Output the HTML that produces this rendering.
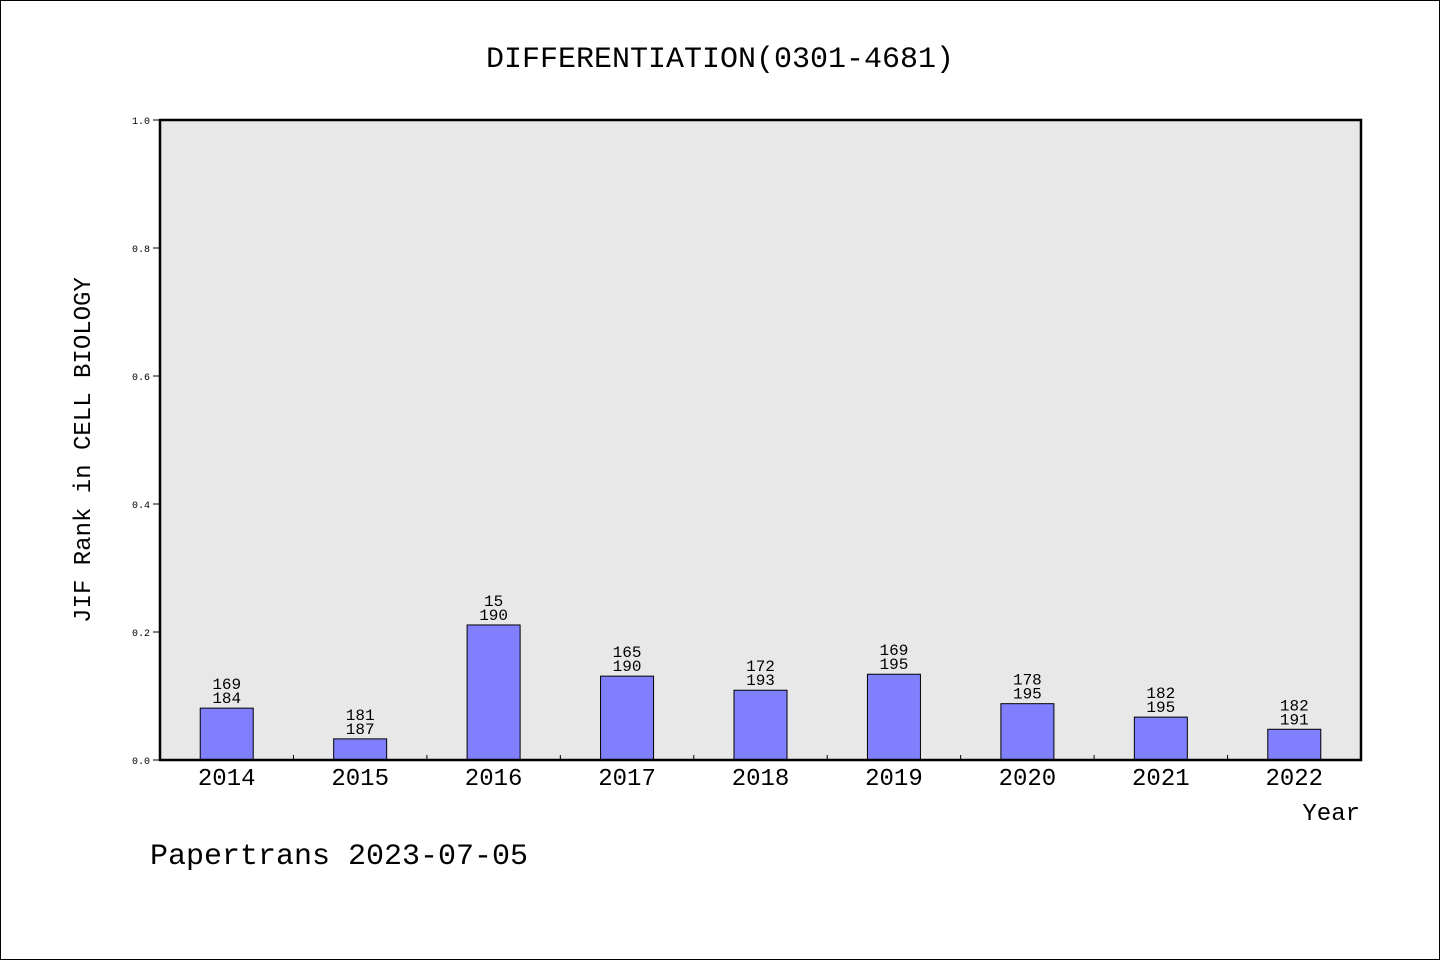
<!DOCTYPE html>
<html><head><meta charset="utf-8"><style>
html,body{margin:0;padding:0;background:#fff}
svg{display:block}
text{font-family:"WenQuanYi Zen Hei","Liberation Mono",monospace;fill:#000}
</style></head><body>
<svg width="1440" height="960" viewBox="0 0 1440 960">
<rect x="0.5" y="0.5" width="1439" height="959" fill="#fff" stroke="#000"/>
<text x="720" y="67" text-anchor="middle" font-size="30">DIFFERENTIATION(0301-4681)</text>
<rect x="160" y="120" width="1201" height="640" fill="#e8e8e8"/>
<g id="marks"></g>
<rect x="160" y="120" width="1201" height="640" fill="none" stroke="#000" stroke-width="2.5"/>
<text transform="translate(90,450) rotate(-90)" text-anchor="middle" font-size="24">JIF Rank in CELL BIOLOGY</text>
<text x="1360" y="820" text-anchor="end" font-size="24">Year</text>
<text x="150" y="864" font-size="30">Papertrans 2023-07-05</text>
</svg>
<script>
const categories=["2014","2015","2016","2017","2018","2019","2020","2021","2022"];
const values=[0.081,0.033,0.211,0.131,0.109,0.134,0.088,0.067,0.048];
const ranks=["169","181","15","165","172","169","178","182","182"];
const totals=["184","187","190","190","193","195","195","195","191"];
const yTicks=[0,0.2,0.4,0.6,0.8,1.0];
const yTickLabels=["0.0","0.2","0.4","0.6","0.8","1.0"];
const X0=160,W=1201,Y0=760,H=640;
const step=W/categories.length;
const xc=i=>X0+step*(i+0.5);
const y=v=>Y0-v*H;
const ns="http://www.w3.org/2000/svg";
const g=document.getElementById('marks');
function mk(t,a){const e=document.createElementNS(ns,t);for(const k in a)e.setAttribute(k,a[k]);g.appendChild(e);return e;}
yTicks.forEach((v,i)=>{
 const l=mk('line',{x1:153,x2:160,y1:y(v),y2:y(v),stroke:'#000'});
 
 
 const t=mk('text',{x:150,y:y(v)+4,'text-anchor':'end','font-size':10});
 t.textContent=yTickLabels[i];
 
 
});
categories.forEach((c,i)=>{
 if(i>0){const l=mk('line',{x1:X0+step*i,x2:X0+step*i,y1:Y0,y2:Y0-5,stroke:'#000'});
 
 }
 const b=mk('rect',{x:xc(i)-26.5,y:y(values[i]),width:53,height:values[i]*H,fill:'#8080ff',stroke:'#000','stroke-width':1});
 
 
 const t1=mk('text',{x:xc(i),y:y(values[i])-19,'text-anchor':'middle','font-size':16});
 t1.textContent=ranks[i];
 
 
 const t2=mk('text',{x:xc(i),y:y(values[i])-5,'text-anchor':'middle','font-size':16});
 t2.textContent=totals[i];
 
 
 const xl=mk('text',{x:xc(i),y:785,'text-anchor':'middle','font-size':24});
 xl.textContent=c;
 
 
});
</script>
</body></html>
